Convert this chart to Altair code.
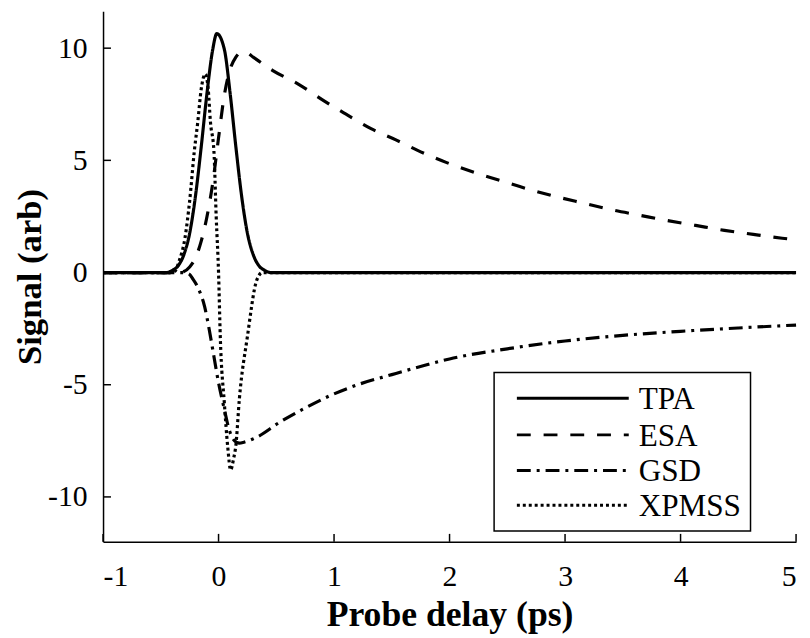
import altair as alt
import pandas as pd

# ---- data ----
TPA_x = [-1, -0.45, -0.4, -0.35, -0.3, -0.25, -0.2, -0.15, -0.1, -0.05, -0.015, 0.05, 0.1, 0.15, 0.2, 0.25, 0.3, 0.35, 0.4, 0.45, 5]
TPA_y = [0, 0, 0.1, 0.3, 0.8, 1.75, 3.4, 5.6, 8.0, 9.95, 10.65, 9.95, 8.0, 5.6, 3.4, 1.75, 0.8, 0.3, 0.1, 0, 0]

ESA_x = [-1, -0.35, -0.3, -0.25, -0.2, -0.15, -0.1, -0.05, 0, 0.05, 0.1, 0.15, 0.2, 0.25, 0.3, 0.47, 0.69, 0.91, 1.1, 1.32, 1.54, 1.75, 1.97, 2.21, 2.44, 2.68, 2.91, 3.16, 3.39, 3.64, 3.88, 4.13, 4.38, 4.63, 4.88, 5]
ESA_y = [0, 0, 0.05, 0.25, 0.65, 1.4, 2.5, 4.0, 6.0, 7.9, 9.05, 9.6, 9.82, 9.78, 9.6, 9.0, 8.4, 7.66, 7.07, 6.41, 5.9, 5.38, 4.91, 4.47, 4.1, 3.72, 3.4, 3.09, 2.81, 2.56, 2.32, 2.1, 1.88, 1.7, 1.53, 1.46]

GSD_x = [-1, -0.32, -0.26, -0.22, -0.18, -0.12, -0.08, -0.04, 0, 0.05, 0.09, 0.13, 0.18, 0.22, 0.33, 0.53, 0.73, 0.96, 1.21, 1.5, 1.81, 2.0, 2.5, 3.0, 3.5, 4.0, 4.5, 5.0]
GSD_y = [0, 0, -0.05, -0.3, -0.65, -1.53, -2.56, -3.74, -4.91, -6.09, -6.97, -7.45, -7.6, -7.56, -7.34, -6.67, -6.09, -5.5, -4.99, -4.55, -4.1, -3.85, -3.4, -3.05, -2.8, -2.62, -2.47, -2.34]

XPMSS_x = [-1, -0.42, -0.38, -0.34, -0.29, -0.25, -0.21, -0.18, -0.15, -0.115, -0.09, -0.07, -0.04, -0.02, 0, 0.015, 0.05, 0.08, 0.105, 0.13, 0.15, 0.18, 0.25, 0.33, 0.38, 0.42, 5]
XPMSS_y = [0, 0, 0.05, 0.53, 1.56, 3.2, 5.4, 6.7, 8.18, 8.85, 8.2, 6.7, 5.4, 2.44, 0, -2.85, -5.8, -7.8, -8.8, -8.3, -7.7, -5.65, -2.85, -0.35, 0, 0, 0]

SERIES = ["TPA", "ESA", "GSD", "XPMSS"]
DASHES = [[1, 0], [14, 13], [14, 6, 3, 6], [3, 3]]
X_TICKS = [-1, 0, 1, 2, 3, 4, 5]
Y_TICKS = [-10, -5, 0, 5, 10]

rows = []
for name, xs, ys in [("TPA", TPA_x, TPA_y), ("ESA", ESA_x, ESA_y),
                     ("GSD", GSD_x, GSD_y), ("XPMSS", XPMSS_x, XPMSS_y)]:
    for xv, yv in zip(xs, ys):
        rows.append({"series": name, "x": xv, "y": yv})
df = pd.DataFrame(rows)

FONT = "Liberation Serif"
xscale = alt.Scale(domain=[-1, 5], nice=False, zero=False)
yscale = alt.Scale(domain=[-12, 11.65], nice=False, zero=False)

lines = alt.Chart(df).mark_line(interpolate="monotone", strokeWidth=3.2, color="black").encode(
    x=alt.X("x:Q", scale=xscale,
            axis=alt.Axis(values=X_TICKS, title="Probe delay (ps)", tickSize=0,
                          labelExpr="'' + datum.value", labelPadding=20, titlePadding=7,
                          titleFontSize=36)),
    y=alt.Y("y:Q", scale=yscale,
            axis=alt.Axis(values=Y_TICKS, title="Signal (arb)", tickSize=0,
                          labelExpr="'' + datum.value", labelPadding=16, titlePadding=0,
                          titleFontSize=35)),
    strokeDash=alt.StrokeDash("series:N", sort=SERIES,
                              scale=alt.Scale(domain=SERIES, range=DASHES), legend=None),
)

xt = alt.Chart(pd.DataFrame({"t": X_TICKS})).mark_rule(color="black", strokeWidth=1.5).encode(
    x=alt.X("t:Q", scale=xscale), y=alt.value(536), y2=alt.value(528))
yt = alt.Chart(pd.DataFrame({"t": Y_TICKS})).mark_rule(color="black", strokeWidth=1.5).encode(
    y=alt.Y("t:Q", scale=yscale), x=alt.value(0), x2=alt.value(8))

# ---- legend box drawn by hand ----
one = pd.DataFrame({"a": [0]})
layers = [lines, xt, yt]
layers.append(alt.Chart(one).mark_rect(fill="white", stroke="black", strokeWidth=1.5).encode(
    x=alt.value(395), x2=alt.value(654), y=alt.value(365), y2=alt.value(525)))
ROW_Y = [391, 428, 464, 499]
for name, dash, yc in zip(SERIES, DASHES, ROW_Y):
    layers.append(alt.Chart(one).mark_rule(color="black", strokeWidth=3, strokeDash=dash).encode(
        x=alt.value(418), x2=alt.value(531), y=alt.value(yc)))
    layers.append(alt.Chart(one).mark_text(text=name, font=FONT, fontSize=31.5, color="black",
                                           align="left", baseline="middle").encode(
        x=alt.value(541), y=alt.value(yc + 2)))

chart = alt.layer(*layers).properties(
    width=700, height=536,
    autosize=alt.AutoSizeParams(type="none"),
    padding={"left": 96, "top": 0, "right": 6, "bottom": 94},
).configure_view(stroke=None).configure_axis(
    domainColor="black", domainWidth=1.5, grid=False,
    labelFont=FONT, labelFontSize=30, labelColor="black",
    titleFont=FONT, titleFontWeight="bold", titleColor="black",
)

chart.save("out.html", embed_options={"renderer": "svg", "actions": False})
